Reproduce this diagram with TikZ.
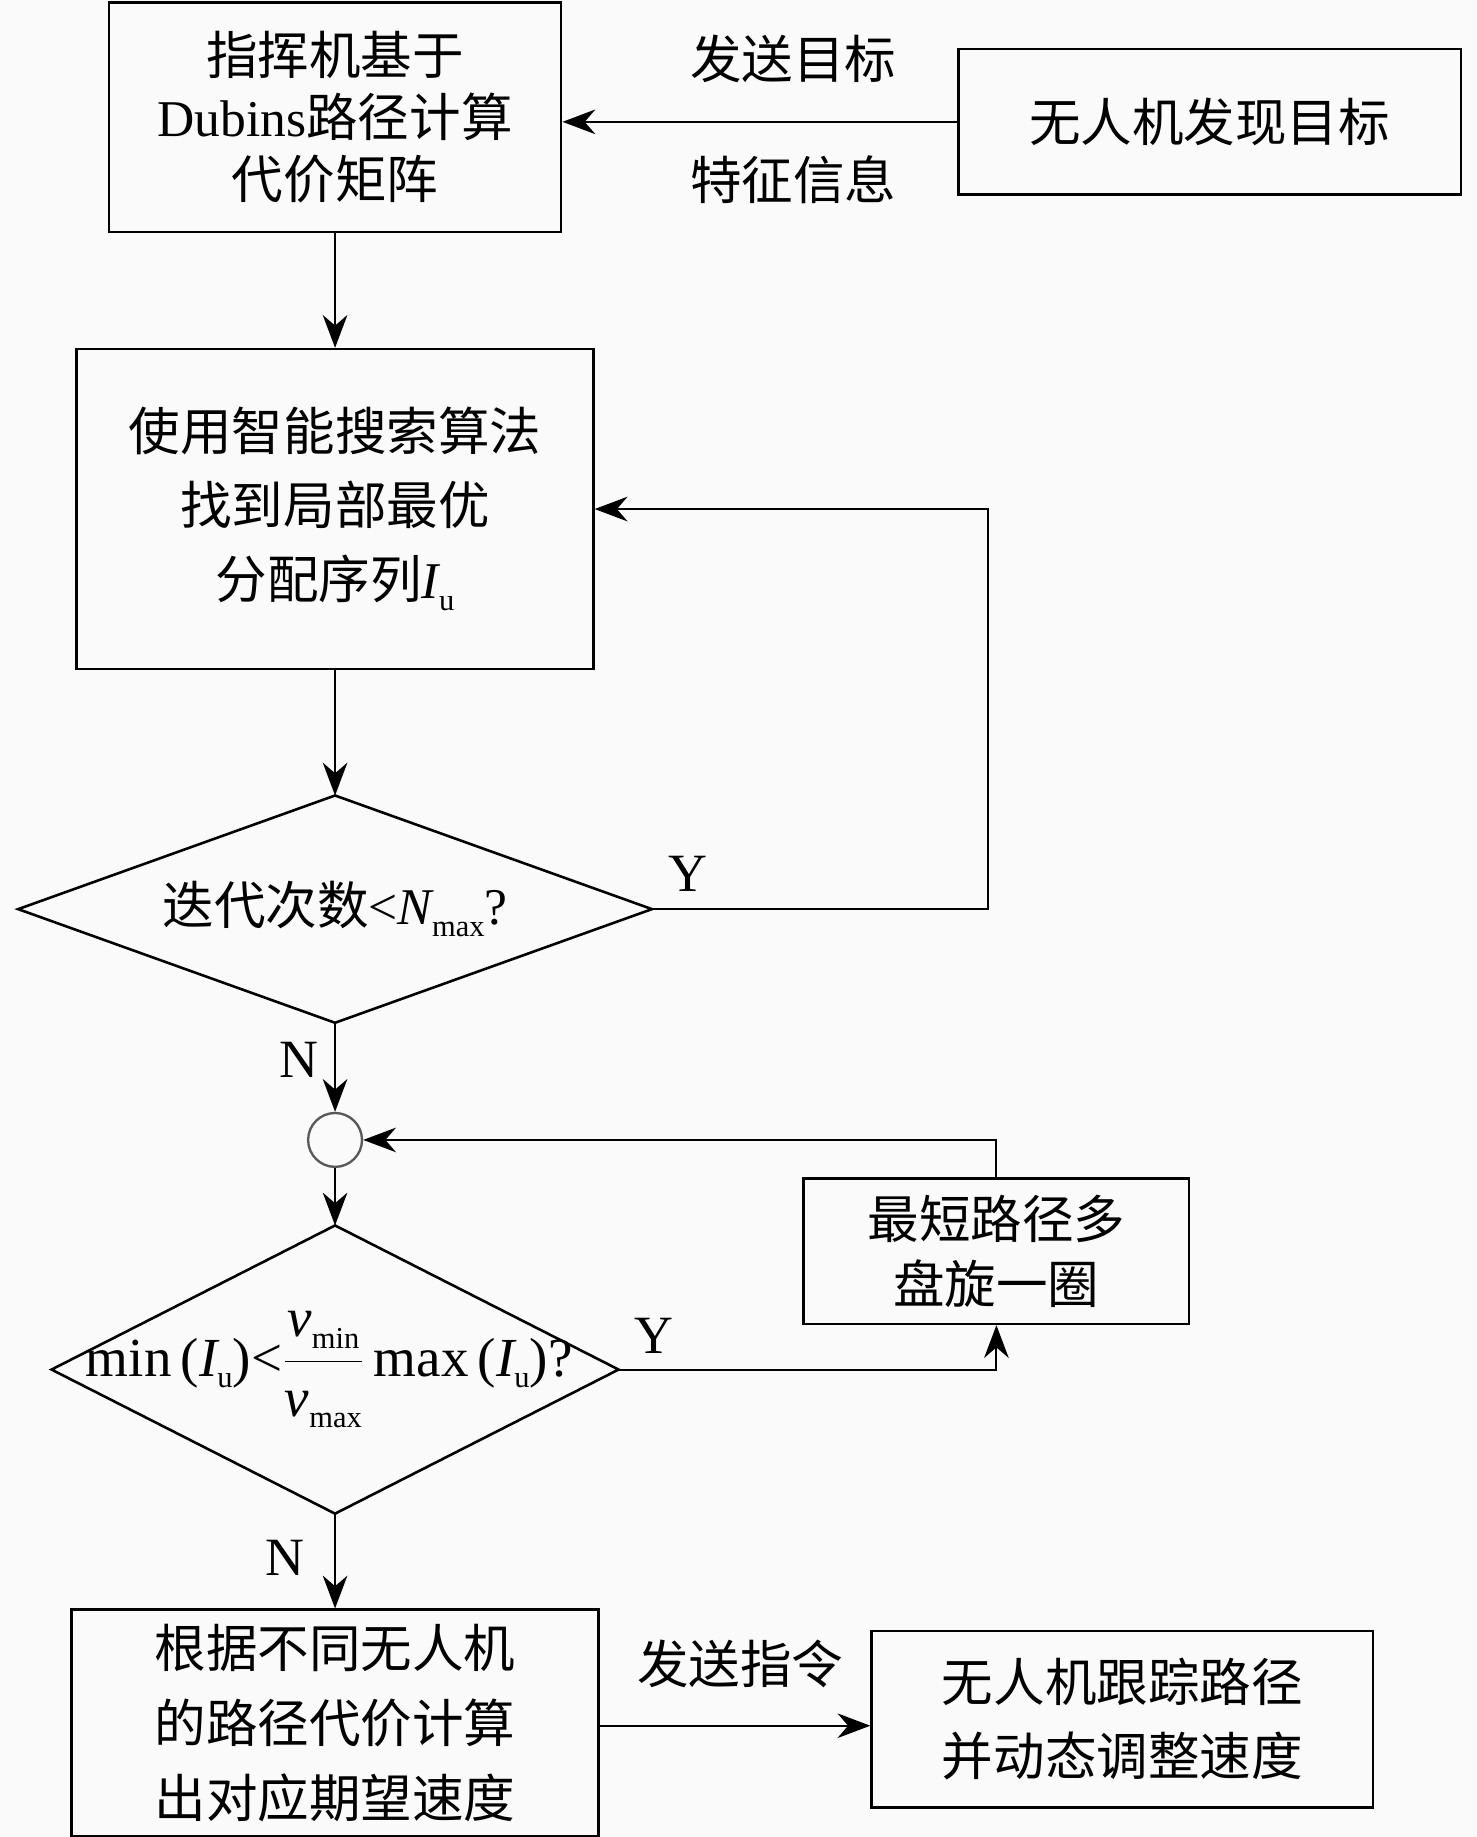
\documentclass[tikz,border=0pt]{standalone}
\usepackage{fontspec}
\setmainfont{Liberation Serif}
\newfontfamily\cjk{Noto Sans CJK SC}
\usetikzlibrary{shapes.geometric,arrows.meta}
\definecolor{bgc}{RGB}{250,250,250}
\newcommand{\sbs}[1]{\raisebox{-0.45ex}{\rmfamily\upshape\fontsize{13pt}{13pt}\selectfont #1}}
\begin{document}
\begin{tikzpicture}[x=0.5pt,y=-0.5pt,
  box/.style={draw,line width=1.1pt,inner sep=0pt,align=center},
  dia/.style={draw,diamond,line width=1.1pt,inner sep=0pt,outer sep=0pt},
  arr/.style={line width=0.9pt,-{Stealth[length=14pt,width=10.5pt,inset=4.5pt]}},
  lbl/.style={font=\cjk\fontsize{22pt}{26pt}\selectfont},
  yn/.style={font=\rmfamily\fontsize{23pt}{26pt}\selectfont},
  txt/.style={font=\cjk\fontsize{22pt}{26pt}\selectfont,inner sep=0pt}]
\fill[bgc] (0,0) rectangle (1260,1568);
\useasboundingbox (0,0) rectangle (1260,1568);

% boxes
\node[box,minimum width=193pt,minimum height=98pt,font=\cjk\fontsize{22pt}{26.5pt}\selectfont] (b1) at (286,100)
  {指挥机基于\\{\rmfamily Dubins}路径计算\\代价矩阵};
\node[box,minimum width=214.5pt,minimum height=62pt,font=\cjk\fontsize{22pt}{26pt}\selectfont] (b0) at (1032.5,104)
  {无人机发现目标};
\node[box,minimum width=220.5pt,minimum height=136.5pt,font=\cjk\fontsize{22pt}{31.5pt}\selectfont] (b2) at (286,434.5)
  {使用智能搜索算法\\找到局部最优\\分配序列{\rmfamily\itshape I}\sbs{u}};
\node[dia,minimum width=270.5pt,minimum height=97pt] (d1) at (286,776) {};
\node[txt] (t1) at (286,776) {迭代次数{\rmfamily <\itshape N}\sbs{max}{\rmfamily ?}};
\node[circle,draw=black!65,line width=1pt,minimum size=23pt,inner sep=0pt] (c) at (286,973) {};
\node[dia,minimum width=242pt,minimum height=123pt] (d2) at (286,1169) {};
\node[inner sep=0pt,font=\rmfamily\fontsize{23.5pt}{26pt}\selectfont] (t2) at (281,1169)
  {min\,({\itshape I}\sbs{u})<$\displaystyle\frac{\hbox{\itshape v\sbs{min}}}{\hbox{\itshape v\sbs{max}}}$\,max\,({\itshape I}\sbs{u})?};
\node[box,minimum width=164.5pt,minimum height=62pt,font=\cjk\fontsize{22pt}{28pt}\selectfont] (b3) at (850.5,1068)
  {最短路径多\\盘旋一圈};
\node[box,minimum width=225pt,minimum height=96.5pt,font=\cjk\fontsize{22pt}{32pt}\selectfont] (b4) at (286,1470.5)
  {根据不同无人机\\的路径代价计算\\出对应期望速度};
\node[box,minimum width=214pt,minimum height=75.5pt,font=\cjk\fontsize{22pt}{31.5pt}\selectfont] (b5) at (958,1467.5)
  {无人机跟踪路径\\并动态调整速度};

% labels
\node[lbl] (l1) at (677,50) {发送目标};
\node[lbl] (l2) at (677,153) {特征信息};
\node[lbl] (l3) at (632,1420) {发送指令};
\node[yn] (y1) at (587,746) {Y};
\node[yn] (n1) at (255,905) {N};
\node[yn] (y2) at (558,1140) {Y};
\node[yn] (n2) at (243,1330) {N};

% connectors
\coordinate (k1) at (843,776);
\draw[arr] (b0.west) -- (b0.west -| b1.east);
\draw[arr] (b1) -- (b2);
\draw[arr] (b2) -- (d1);
\draw[arr] (d1.east) -- (k1) |- (b2.east);
\draw[arr] (d1) -- (c);
\draw[arr] (c) -- (d2);
\draw[arr] (d2.east) -| (b3.south);
\draw[arr] (b3.north) |- (c.east);
\draw[arr] (d2) -- (b4);
\draw[arr] (b4.east |- 0,1473) -- (b5.west |- 0,1473);
\end{tikzpicture}
\end{document}
